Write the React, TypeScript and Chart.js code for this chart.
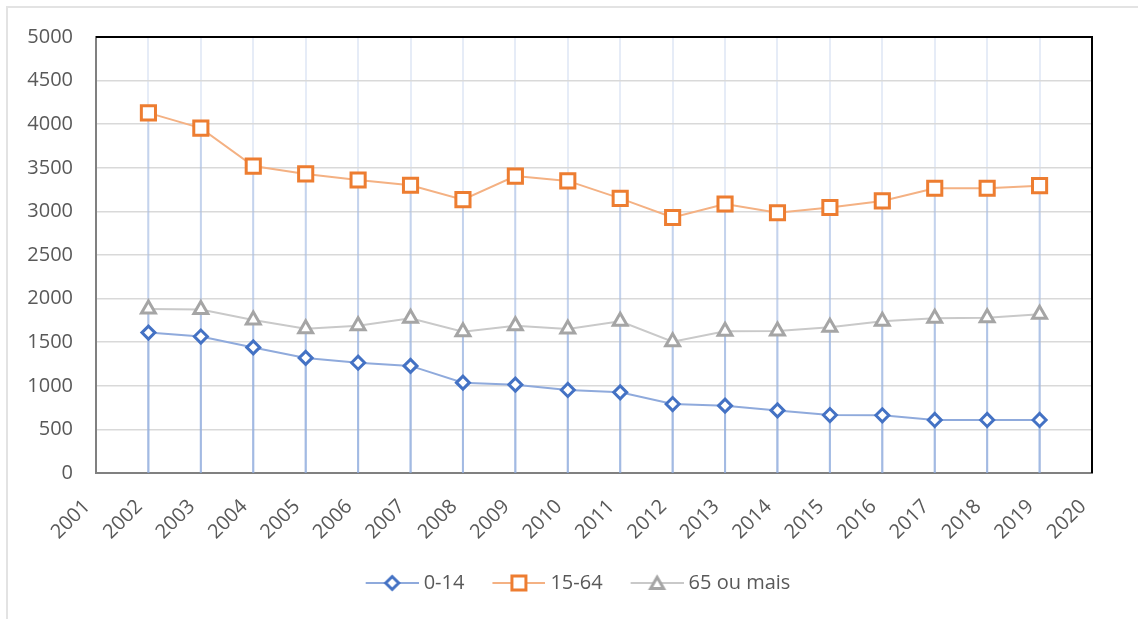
import { useEffect, useRef } from "react";
import { Chart, registerables } from "chart.js";

Chart.register(...registerables);

const years = [2002, 2003, 2004, 2005, 2006, 2007, 2008, 2009, 2010, 2011, 2012, 2013, 2014, 2015, 2016, 2017, 2018, 2019];
const ages0to14 = [1610, 1565, 1440, 1320, 1265, 1228, 1036, 1013, 952, 925, 791, 772, 718, 665, 662, 608, 608, 608];
const ages15to64 = [4130, 3955, 3520, 3430, 3360, 3300, 3135, 3405, 3350, 3150, 2930, 3085, 2985, 3045, 3120, 3265, 3265, 3295];
const ages65plus = [1880, 1876, 1755, 1655, 1690, 1775, 1620, 1689, 1651, 1740, 1506, 1625, 1628, 1671, 1740, 1774, 1781, 1820];
const seriesLabels = ["0-14", "15-64", "65 ou mais"];
const xAxisMin = 2001;
const xAxisMax = 2020;
const yAxisMax = 5000;
const yAxisStep = 500;

const FONT = "'Open Sans', sans-serif";
const TEXT = "#595959";

function makeIcon(kind: string, lineColor: string, markerColor: string) {
  const c = document.createElement("canvas");
  c.width = 58;
  c.height = 24;
  const ctx = c.getContext("2d")!;
  ctx.strokeStyle = lineColor;
  ctx.lineWidth = 2;
  ctx.beginPath();
  ctx.moveTo(5, 12);
  ctx.lineTo(58, 12);
  ctx.stroke();
  const cx = 31.5;
  const cy = 12;
  ctx.fillStyle = "#fff";
  ctx.strokeStyle = markerColor;
  ctx.lineWidth = 3;
  ctx.beginPath();
  if (kind === "diamond") {
    ctx.moveTo(cx - 6.5, cy);
    ctx.lineTo(cx, cy - 6.5);
    ctx.lineTo(cx + 6.5, cy);
    ctx.lineTo(cx, cy + 6.5);
  } else if (kind === "square") {
    ctx.rect(cx - 7, cy - 7, 14, 14);
  } else {
    const ty = cy + 1.75;
    ctx.moveTo(cx, ty - 7.5);
    ctx.lineTo(cx + 6.5, ty + 3.75);
    ctx.lineTo(cx - 6.5, ty + 3.75);
  }
  ctx.closePath();
  ctx.fill();
  ctx.stroke();
  return c;
}

const dropLines = {
  id: "dropLines",
  afterLayout(chart: any) {
    const lg = chart.legend;
    if (lg) {
      const shift = 578 - (lg.left + lg.right) / 2;
      lg.left += shift;
      lg.right += shift;
    }
  },
  beforeDatasetsDraw(chart: any) {
    const { ctx, chartArea } = chart;
    ctx.save();
    ctx.strokeStyle = "rgba(143,170,220,0.38)";
    ctx.lineWidth = 2;
    chart.data.datasets.forEach((_: any, di: number) => {
      const meta = chart.getDatasetMeta(di);
      meta.data.forEach((pt: any) => {
        ctx.beginPath();
        ctx.moveTo(pt.x, pt.y);
        ctx.lineTo(pt.x, chartArea.bottom);
        ctx.stroke();
      });
    });
    ctx.strokeStyle = "#000";
    ctx.lineWidth = 2;
    ctx.beginPath();
    ctx.moveTo(chartArea.left, chartArea.top);
    ctx.lineTo(chartArea.right, chartArea.top);
    ctx.lineTo(chartArea.right, chartArea.bottom);
    ctx.stroke();
    ctx.restore();
  },
};

export default function App() {
  const ref = useRef<HTMLCanvasElement | null>(null);

  useEffect(() => {
    if (!ref.current) return;
    const icons = [
      makeIcon("diamond", "#8FAADC", "#4472C4"),
      makeIcon("square", "#F4B183", "#ED7D31"),
      makeIcon("triangle", "#C9C9C9", "#A5A5A5"),
    ];
    const chart = new Chart(ref.current, {
      type: "line",
      data: {
        datasets: [
          {
            label: seriesLabels[0],
            data: years.map((x, i) => ({ x, y: ages0to14[i] })),
            borderColor: "#8FAADC",
            borderWidth: 2,
            pointStyle: "rectRot",
            pointRadius: 6.5,
            pointBorderWidth: 3,
            pointBorderColor: "#4472C4",
            pointBackgroundColor: "#fff",
          },
          {
            label: seriesLabels[1],
            data: years.map((x, i) => ({ x, y: ages15to64[i] })),
            borderColor: "#F4B183",
            borderWidth: 2,
            pointStyle: "rect",
            pointRadius: 10,
            pointBorderWidth: 3,
            pointBorderColor: "#ED7D31",
            pointBackgroundColor: "#fff",
          },
          {
            label: seriesLabels[2],
            data: years.map((x, i) => ({ x, y: ages65plus[i] })),
            borderColor: "#C9C9C9",
            borderWidth: 2,
            pointStyle: "triangle",
            pointRadius: 8,
            pointBorderWidth: 3,
            pointBorderColor: "#A5A5A5",
            pointBackgroundColor: "#fff",
          },
        ],
      },
      options: {
        responsive: false,
        animation: false,
        events: [],
        layout: { padding: { left: 0, right: 46, top: 37, bottom: 16 } },
        scales: {
          x: {
            type: "linear",
            min: xAxisMin,
            max: xAxisMax,
            afterFit: (s: any) => {
              s.height = 72;
            },
            border: { color: "#808080", width: 2 },
            grid: { color: "#e6ecf7", lineWidth: 2, drawTicks: false },
            ticks: {
              stepSize: 1,
              autoSkip: false,
              minRotation: 45,
              maxRotation: 45,
              padding: 22,
              labelOffset: -9,
              color: TEXT,
              font: { family: FONT, size: 20 },
              callback: (v: any) => String(v),
            },
          },
          y: {
            min: 0,
            max: yAxisMax,
            afterFit: (s: any) => {
              s.width = 96;
            },
            border: { color: "#808080", width: 2 },
            grid: { color: "#d9d9d9", lineWidth: 1.5, drawTicks: false },
            ticks: {
              stepSize: yAxisStep,
              padding: 23,
              color: TEXT,
              font: { family: FONT, size: 20 },
              callback: (v: any) => String(v),
            },
          },
        },
        plugins: {
          tooltip: { enabled: false },
          legend: {
            position: "bottom",
            labels: {
              usePointStyle: true,
              pointStyleWidth: 48,
              padding: 28,
              color: TEXT,
              font: { family: FONT, size: 20 },
              generateLabels: () =>
                seriesLabels.map((text, i) => ({
                  text,
                  pointStyle: icons[i],
                  fillStyle: "#fff",
                  strokeStyle: "#fff",
                  lineWidth: 0,
                  hidden: false,
                  datasetIndex: i,
                  fontColor: TEXT,
                })),
            },
          },
        },
      } as any,
      plugins: [dropLines],
    });
    return () => chart.destroy();
  }, []);

  return (
    <div style={{ position: "fixed", left: 0, top: 0, width: 1138, height: 619, background: "#fff" }}>
      <div
        style={{
          position: "absolute",
          left: 6,
          top: 6,
          right: 0,
          bottom: 0,
          borderLeft: "2px solid #e3e3e3",
          borderTop: "2px solid #e3e3e3",
        }}
      />
      <canvas ref={ref} width={1138} height={619} style={{ position: "absolute", left: 0, top: 0 }} />
    </div>
  );
}
